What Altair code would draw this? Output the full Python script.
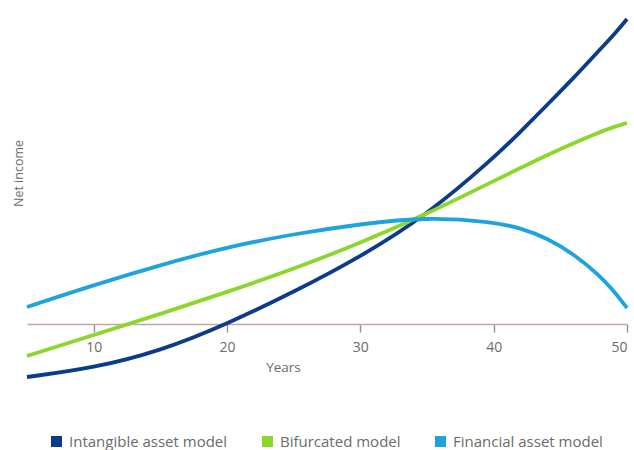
import altair as alt
import pandas as pd

years = [5, 10, 15, 20, 25, 30, 35, 40, 42, 44, 46, 48, 49, 50]
intangible = [-53, -44, -27, 0, 32, 67, 109, 166, 192, 219, 246, 275, 289, 305]
bifurcated = [-32, -11, 10, 32, 55, 81, 110, 143, 156, 169, 181, 192, 197, 201]
financial = [17, 39, 59, 77, 90, 100, 107, 102, 96, 86, 70, 48, 33, 16]

series_names = ["Intangible asset model", "Bifurcated model", "Financial asset model"]
series_colors = ["#0c3b8c", "#8dd62b", "#1ea3dc"]
x_ticks = [10, 20, 30, 40, 50]

rows = []
for name, vals in zip(series_names, [intangible, bifurcated, financial]):
    for i, (yr, v) in enumerate(zip(years, vals)):
        rows.append({"Year": yr, "Value": v, "Model": name, "order": i})
df = pd.DataFrame(rows)

FONT = "Open Sans"
GREY = "#6b6b6b"
AXIS_COL = "#c6a3b3"

chart = alt.Chart(df).mark_line(strokeWidth=3.8, interpolate="basis").encode(
    x=alt.X("Year:Q",
            scale=alt.Scale(domain=[5, 50], nice=False, zero=False),
            axis=alt.Axis(values=x_ticks, title="Years", offset=-60,
                          domainColor=AXIS_COL, domainWidth=1.6,
                          tickColor="#a08c96", tickSize=8, tickWidth=1.4,
                          labelColor=GREY, labelFontSize=14, labelFont=FONT,
                          labelPadding=8, grid=False,
                          titleFont=FONT, titleFontSize=13.5, titleColor=GREY,
                          titleFontWeight="normal",
                          titleX=256, titleY=43, titleBaseline="middle",
                          titleAlign="center")),
    y=alt.Y("Value:Q",
            scale=alt.Scale(domain=[-60, 314], nice=False, zero=False),
            axis=alt.Axis(title="Net income", labels=False, ticks=False,
                          domain=False, grid=False,
                          titleFont=FONT, titleFontSize=12.5, titleColor=GREY,
                          titleFontWeight="normal",
                          titleX=-9, titleY=163, titleAngle=270,
                          titleAlign="center", titleBaseline="middle")),
    color=alt.Color("Model:N",
                    scale=alt.Scale(domain=series_names, range=series_colors),
                    sort=series_names,
                    legend=alt.Legend(title=None, orient="none", direction="horizontal",
                                      legendX=22, legendY=424,
                                      symbolType="square", symbolSize=25,
                                      symbolStrokeWidth=6,
                                      labelFont=FONT, labelFontSize=15,
                                      labelColor=GREY, labelOffset=5,
                                      columnPadding=25, padding=0)),
    order="order:Q",
).properties(
    width=600,
    height=374,
    padding={"left": 27, "top": 10, "right": 7, "bottom": 66},
    autosize=alt.AutoSizeParams(type="none"),
    background="white",
).configure_view(stroke=None)

chart.save("out.html", embed_options={"renderer": "svg", "actions": False})
